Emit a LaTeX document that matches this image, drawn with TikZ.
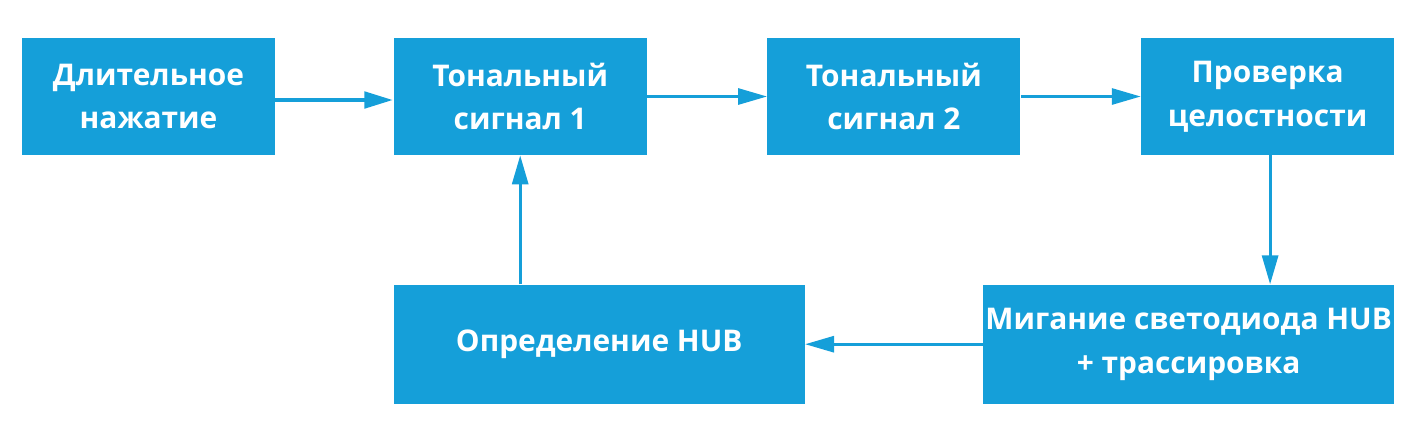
\documentclass[tikz,border=0pt]{standalone}
\usepackage{fontspec}
\setmainfont{Open Sans}
\usepackage{tikz}
\usetikzlibrary{positioning,arrows.meta}
\definecolor{hubblue}{RGB}{21,159,217}
\tikzset{
  block/.style={rectangle, fill=hubblue, inner sep=0pt, minimum width=5.06cm, minimum height=2.34cm,
                font=\fontsize{17}{25}\selectfont\bfseries, text=white, align=center},
  wide/.style={minimum width=8.22cm, minimum height=2.38cm},
  fwd/.style={-{Triangle[length=5.8mm, width=3.2mm]}, draw=hubblue, line width=1.7pt},
  heavy/.style={line width=2.8pt},
}

\begin{document}
\begin{tikzpicture}[node distance=2.4cm]
\useasboundingbox (0,0) rectangle (28.34,-8.42);
%Nodes
\node[block] (node1) at (2.97,-1.93) {Длительное\\нажатие};
\node[block] (node2) [right=2.36cm of node1] {Тональный\\сигнал 1};
\node[block] (node3) [right=of node2] {Тональный\\сигнал 2};
\node[block] (node4) [right=of node3] {Проверка\\целостности};
\node[block, wide] (node6) [below=2.58cm of node2.south west, anchor=north west] {Определение HUB};
\node[block, wide] (node5) [below=2.58cm of node4.south east, anchor=north east] {Мигание светодиода HUB\\+ трассировка};

%Lines
\draw[fwd, heavy] ([yshift=-0.07cm]node1.east) -- ([yshift=-0.07cm]node2.west);
\draw[fwd] (node2.east) -- (node3.west);
\draw[fwd] (node3.east) -- (node4.west);
\draw[fwd] ([xshift=0.05cm]node4.south) -- ([xshift=0.05cm]node4.south |- node5.north);
\draw[fwd] (node5.west) -- (node6.east);
\draw[fwd] (node6.north -| node2.south) -- (node2.south);
\end{tikzpicture}
\end{document}
